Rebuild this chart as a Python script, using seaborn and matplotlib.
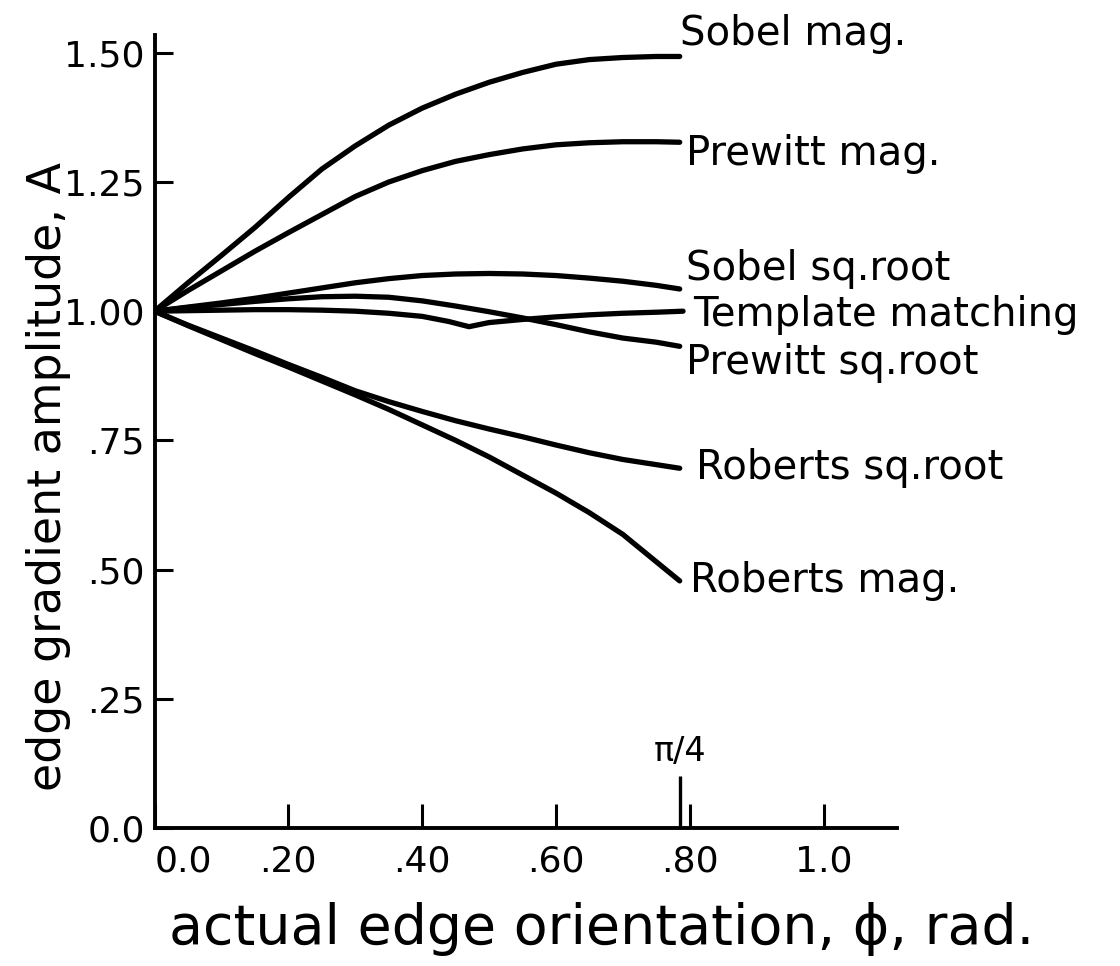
import numpy as np
import pandas as pd
import matplotlib
matplotlib.use("Agg")
import matplotlib.pyplot as plt
import seaborn as sns

# -------------------------
# Data
# -------------------------
phi = [0.0, 0.05, 0.10, 0.15, 0.20, 0.25, 0.30, 0.35, 0.40, 0.45, 0.50,
       0.55, 0.60, 0.65, 0.70, 0.75, 0.785]
phi_template = [0.0, 0.05, 0.10, 0.15, 0.20, 0.25, 0.30, 0.35, 0.40, 0.44,
                0.47, 0.50, 0.55, 0.60, 0.65, 0.70, 0.75, 0.79]

sobel_mag = [1.00, 1.055, 1.108, 1.162, 1.22, 1.275, 1.32, 1.36, 1.393, 1.42,
             1.443, 1.462, 1.478, 1.487, 1.491, 1.493, 1.493]
prewitt_mag = [1.00, 1.04, 1.078, 1.116, 1.152, 1.187, 1.222, 1.25, 1.272,
               1.29, 1.303, 1.314, 1.322, 1.326, 1.328, 1.328, 1.327]
sobel_sqrt = [1.00, 1.008, 1.016, 1.025, 1.035, 1.045, 1.055, 1.063, 1.069,
              1.072, 1.073, 1.072, 1.069, 1.064, 1.058, 1.05, 1.043]
prewitt_sqrt = [1.00, 1.007, 1.013, 1.019, 1.024, 1.028, 1.029, 1.027, 1.02,
                1.01, 0.999, 0.987, 0.974, 0.96, 0.948, 0.94, 0.932]
template = [1.00, 1.001, 1.002, 1.003, 1.003, 1.002, 1.0, 0.996, 0.99, 0.98,
            0.97, 0.978, 0.984, 0.989, 0.993, 0.996, 0.998, 1.0]
roberts_sqrt = [1.00, 0.973, 0.948, 0.923, 0.897, 0.872, 0.846, 0.825, 0.806,
                0.788, 0.772, 0.757, 0.741, 0.726, 0.713, 0.703, 0.696]
roberts_mag = [1.00, 0.972, 0.945, 0.918, 0.892, 0.865, 0.838, 0.81, 0.78,
               0.75, 0.718, 0.683, 0.648, 0.61, 0.568, 0.515, 0.478]

curve_names = ["Sobel mag.", "Prewitt mag.", "Sobel sq.root",
               "Template matching", "Prewitt sq.root", "Roberts sq.root",
               "Roberts mag."]
curve_values = [sobel_mag, prewitt_mag, sobel_sqrt, template, prewitt_sqrt,
                roberts_sqrt, roberts_mag]

ytick_vals = [0.0, 0.25, 0.50, 0.75, 1.00, 1.25, 1.50]
ytick_labels = ["0.0", ".25", ".50", ".75", "1.00", "1.25", "1.50"]
xtick_vals = [0.0, 0.2, 0.4, 0.6, 0.8, 1.0]
xtick_labels = ["0.0", ".20", ".40", ".60", ".80", "1.0"]

# label anchor (x, y) in data units, next to each curve end
label_pos = [(0.785, 1.536), (0.795, 1.305), (0.795, 1.082),
             (0.805, 0.992), (0.795, 0.9), (0.81, 0.697), (0.8, 0.478)]

# -------------------------
# Build long table
# -------------------------
rows = []
for name, vals in zip(curve_names, curve_values):
    xs = phi_template if name == "Template matching" else phi
    for x, y in zip(xs, vals):
        rows.append({"phi": x, "A": y, "curve": name})
df = pd.DataFrame(rows)

# -------------------------
# Plot
# -------------------------
sns.set_style("ticks", {"axes.edgecolor": "black", "xtick.color": "black",
                        "ytick.color": "black", "text.color": "black",
                        "axes.labelcolor": "black"})
plt.rcParams['font.family'] = ['DejaVu Sans']

fig = plt.figure(figsize=(11.2, 9.66), dpi=100)
ax = fig.add_axes([0.138, 0.143, 0.663, 0.821])

for name in curve_names:
    sub = df[df["curve"] == name]
    sns.lineplot(data=sub, x="phi", y="A", color="black", linewidth=3.8,
                 sort=False, ax=ax)

for name, (lx, ly) in zip(curve_names, label_pos):
    ax.text(lx, ly, name, fontsize=29, ha="left", va="center", color="black")

ax.set_xlim(0, 1.11)
ax.set_ylim(0, 1.535)
ax.set_xticks(xtick_vals)
ax.set_xticklabels(xtick_labels, fontsize=26)
ax.set_yticks(ytick_vals)
ax.set_yticklabels(ytick_labels, fontsize=26)
ax.get_xticklabels()[0].set_horizontalalignment("left")

ax.tick_params(axis="y", direction="in", length=13, width=2.2, pad=7)
ax.tick_params(axis="x", direction="in", length=17, width=2.2, pad=12)

# pi/4 marker on the x axis
ax.vlines(np.pi / 4, 0, 0.1, color="black", linewidth=2.4)
ax.text(np.pi / 4, 0.148, "π/4", fontsize=24, ha="center", va="center")

sns.despine(ax=ax)
for side in ["left", "bottom"]:
    ax.spines[side].set_linewidth(2.8)

ax.set_xlabel("actual edge orientation, ϕ, rad.", fontsize=40)
ax.set_ylabel("edge gradient amplitude, A", fontsize=33)
ax.xaxis.set_label_coords(0.602, -0.094)
ax.yaxis.set_label_coords(-0.112, 0.443)

fig.savefig("out.png", dpi=100)
